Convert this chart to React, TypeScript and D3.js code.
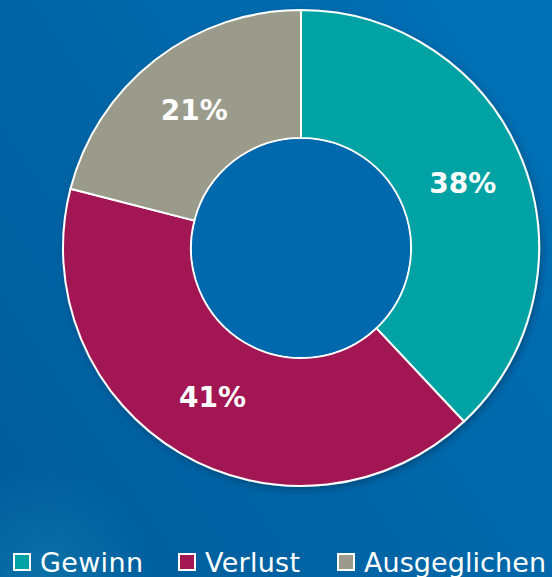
import React from "react";
import * as d3 from "d3";

const categories = ["Gewinn", "Verlust", "Ausgeglichen"];
const values = [38, 41, 21];
const colors = ["#00a2a3", "#a21752", "#9a9b8b"];
const labels = ["38%", "41%", "21%"];

const W = 552;
const H = 577;
const cx = 301;
const cy = 248;
const outerR = 238;
const innerR = 110;

const legendX = [13, 178, 337];
const legendTextLen = [103, 95, 182];

export default function App() {
  const pie = d3.pie<number>().value((d) => d).sort(null);
  const arcs = pie(values);
  const arc = d3.arc<d3.PieArcDatum<number>>().innerRadius(innerR).outerRadius(outerR);

  return (
    <svg
      width={W}
      height={H}
      style={{ position: "fixed", left: 0, top: 0, display: "block" }}
    >
      <defs>
        <linearGradient id="bg" x1="0" y1="0.8" x2="1" y2="0.1">
          <stop offset="0" stopColor="#005d9c" />
          <stop offset="0.5" stopColor="#0067a9" />
          <stop offset="1" stopColor="#0070b5" />
        </linearGradient>
        <radialGradient id="glow" cx="45" cy="577" r="110" gradientUnits="userSpaceOnUse">
          <stop offset="0" stopColor="#2aa0c0" stopOpacity="0.3" />
          <stop offset="1" stopColor="#2aa0c0" stopOpacity="0" />
        </radialGradient>
        <filter id="shadow" x="-10%" y="-10%" width="120%" height="120%">
          <feDropShadow dx="2" dy="3" stdDeviation="3" floodColor="#002040" floodOpacity="0.4" />
        </filter>
      </defs>
      <rect x={0} y={0} width={W} height={H} fill="url(#bg)" />
      <rect x={0} y={0} width={W} height={H} fill="url(#glow)" />

      <g transform={`translate(${cx},${cy})`}>
        <g filter="url(#shadow)">
          {arcs.map((a, i) => (
            <path key={i} d={arc(a) || ""} fill={colors[i]} stroke="#ffffff" strokeWidth={2} />
          ))}
        </g>
        <circle r={innerR - 1} fill="#0069ad" />
        {arcs.map((a, i) => {
          const [x, y] = arc.centroid(a);
          return (
            <text
              key={"l" + i}
              x={x}
              y={y}
              textAnchor="middle"
              dominantBaseline="central"
              fill="#ffffff"
              fontFamily="DejaVu Sans"
              fontWeight="bold"
              fontSize={28}
            >
              {labels[i]}
            </text>
          );
        })}
      </g>

      <g>
        {categories.map((c, i) => (
          <g key={"lg" + i}>
            <rect
              x={legendX[i] + 1}
              y={554}
              width={16}
              height={16}
              fill={colors[i]}
              stroke="#ffffff"
              strokeWidth={2}
            />
            <text
              x={legendX[i] + 27}
              y={572}
              fill="#ffffff"
              fontFamily="DejaVu Sans"
              fontSize={27}
              textLength={legendTextLen[i]}
              lengthAdjust="spacing"
            >
              {c}
            </text>
          </g>
        ))}
      </g>
    </svg>
  );
}
